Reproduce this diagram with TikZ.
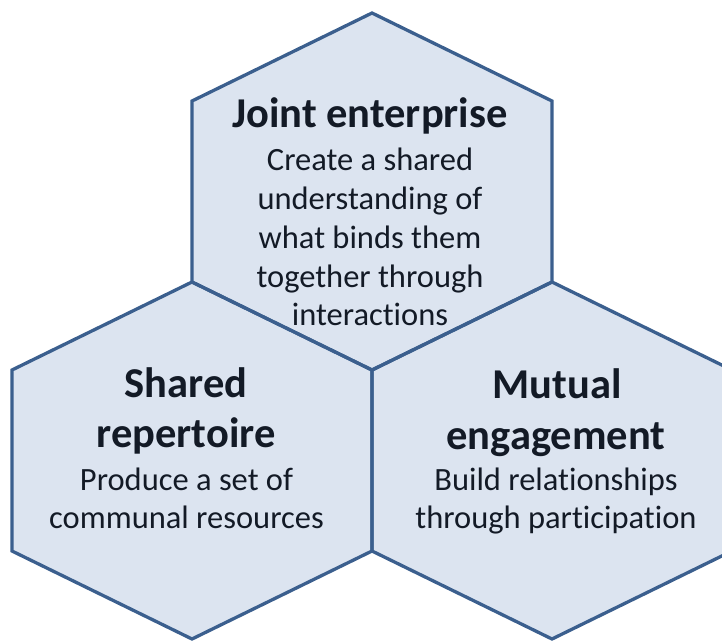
\documentclass[tikz,border=0pt]{standalone}
\usepackage{fontspec}
\setmainfont[Ligatures={NoCommon}]{Carlito}
\definecolor{hexfill}{HTML}{DCE4F0}
\definecolor{hexline}{HTML}{3B5F8E}
\definecolor{txt}{HTML}{131A26}
\newcommand{\hexat}[2]{(#1,#2-178.5) -- (#1+180,#2-90.5) -- (#1+180,#2+90.5) -- (#1,#2+178.5) -- (#1-180,#2+90.5) -- (#1-180,#2-90.5) -- cycle}
\tikzset{
  hexfillst/.style={fill=hexfill},
  hexedge/.style={draw=hexline, line width=3.3pt, line join=miter},
  titletext/.style={text=txt, font=\bfseries\fontsize{42.5}{50}\selectfont, inner sep=0pt, anchor=base},
  bodytext/.style={text=txt, font=\fontsize{32.5}{39}\selectfont, inner sep=0pt, anchor=base}
}
\begin{document}
\begin{tikzpicture}[x=1pt,y=-1pt]
\useasboundingbox (0,0) rectangle (722,640);
\clip (0,0) rectangle (722,640);
\path[hexfillst] \hexat{372}{191.5};
\path[hexfillst] \hexat{192}{460.5};
\path[hexfillst] \hexat{552}{460.5};
\node[titletext] (jt) at (370,127) {Joint enterprise};
\node[bodytext] (jb1) at (370,170) {Create a shared};
\node[bodytext] (jb2) at (370,209) {understanding of};
\node[bodytext] (jb3) at (370,248) {what binds them};
\node[bodytext] (jb4) at (370,287) {together through};
\node[bodytext] (jb5) at (370,325.5) {interactions};
\node[titletext] (st1) at (186,397) {Shared};
\node[titletext] (st2) at (186,447) {repertoire};
\node[bodytext] (sb1) at (186.5,490) {Produce a set of};
\node[bodytext] (sb2) at (186.5,528) {communal resources};
\node[titletext] (mt1) at (557,398) {Mutual};
\node[titletext] (mt2) at (556,449) {engagement};
\node[bodytext] (mb1) at (556,490) {Build relationships};
\node[bodytext] (mb2) at (556,528) {through participation};
\path[hexedge] \hexat{372}{191.5};
\path[hexedge] \hexat{192}{460.5};
\path[hexedge] \hexat{552}{460.5};
\end{tikzpicture}
\end{document}
